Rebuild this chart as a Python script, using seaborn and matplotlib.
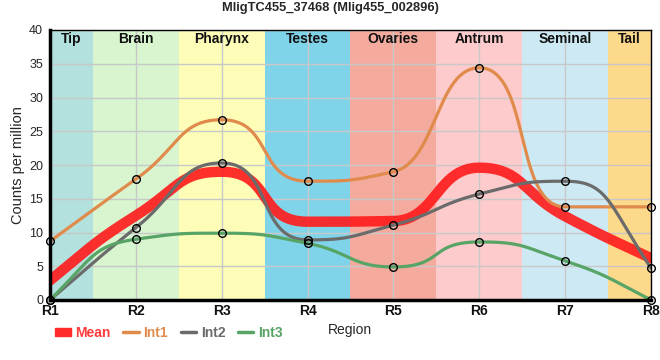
import numpy as np
import matplotlib
matplotlib.use("Agg")
import matplotlib.pyplot as plt
import seaborn as sns
from matplotlib.lines import Line2D
from matplotlib.patches import Patch

regions = ["R1", "R2", "R3", "R4", "R5", "R6", "R7", "R8"]
int1 = [8.7, 17.9, 26.7, 17.6, 19.0, 34.4, 13.8, 13.8]
int2 = [0.0, 10.7, 20.3, 8.9, 11.1, 15.7, 17.6, 4.7]
int3 = [0.0, 9.0, 9.9, 8.4, 4.9, 8.6, 5.8, 0.0]
mean = [2.9, 12.5, 19.0, 11.6, 11.7, 19.6, 12.4, 6.2]

band_names = ["Tip", "Brain", "Pharynx", "Testes", "Ovaries", "Antrum", "Seminal", "Tail"]
band_colors = ["#b3e1dd", "#d8f5d0", "#fdfdb8", "#7fd4ea", "#f4ab9d", "#fdcbcc", "#cdeaf4", "#fdd98b"]


def smooth(xs, ys, c=0.6, n=80):
    # monotone tangents, bezier segments with control handles at c of the gap
    xs = np.asarray(xs, float)
    ys = np.asarray(ys, float)
    h = np.diff(xs)
    d = np.diff(ys) / h
    m = np.zeros_like(ys)
    for i in range(1, len(ys) - 1):
        if d[i - 1] * d[i] > 0:
            p = (d[i - 1] * h[i] + d[i] * h[i - 1]) / (h[i - 1] + h[i])
            m[i] = np.sign(d[i]) * min(abs(d[i - 1]), abs(d[i]), 0.5 * abs(p)) * 2
    m[0] = (3 * d[0] - m[1]) / 2
    m[-1] = (3 * d[-1] - m[-2]) / 2
    out_x, out_y = [], []
    t = np.linspace(0, 1, n)
    b0, b1, b2, b3 = (1 - t) ** 3, 3 * (1 - t) ** 2 * t, 3 * (1 - t) * t ** 2, t ** 3
    for i in range(len(h)):
        ci = c if m[i] == 0 and m[i + 1] == 0 else 0.5
        px = [xs[i], xs[i] + ci * h[i], xs[i + 1] - ci * h[i], xs[i + 1]]
        py = [ys[i], ys[i] + ci * h[i] * m[i], ys[i + 1] - ci * h[i] * m[i + 1], ys[i + 1]]
        out_x.append(b0 * px[0] + b1 * px[1] + b2 * px[2] + b3 * px[3])
        out_y.append(b0 * py[0] + b1 * py[1] + b2 * py[2] + b3 * py[3])
    return np.concatenate(out_x), np.concatenate(out_y)


sns.set_style("white")
plt.rcParams["font.family"] = ["Liberation Sans", "DejaVu Sans"]

fig = plt.figure(figsize=(6.6, 3.6), dpi=100)
ax = fig.add_axes([50 / 660, 1 - 300 / 360, 601 / 660, 270 / 360])

x = np.arange(len(regions))
for i, (name, col) in enumerate(zip(band_names, band_colors)):
    lo = max(i - 0.5, 0)
    hi = min(i + 0.5, len(regions) - 1)
    ax.axvspan(lo, hi, color=col, zorder=0, lw=0)
    ax.text((lo + hi) / 2, 38.6, name, ha="center", va="center", fontsize=10,
            fontweight="bold", color="#111111", zorder=5)

ax.grid(True, color="#c8c8c8", lw=1, zorder=1)

mx, my = smooth(x, mean)
sns.lineplot(x=mx, y=my, color="#ff1a1a", lw=7.5, alpha=0.9, ax=ax, zorder=3, sort=False)

series = [(int1, "#e08b4b"), (int2, "#6b6b6b"), (int3, "#58a466")]
for vals, col in series:
    sx, sy = smooth(x, vals)
    sns.lineplot(x=sx, y=sy, color=col, lw=2.3, ax=ax, zorder=4, sort=False)
for vals, col in series:
    ax.plot(x, vals, "o", ms=5.5, mfc="none", mec="black", mew=1, zorder=6, clip_on=False)

ax.set_xlim(0, len(regions) - 1)
ax.set_ylim(0, 40)
ax.set_xticks(x)
ax.set_xticklabels(regions, fontsize=10, fontweight="bold", color="#111111")
ax.set_yticks(np.arange(0, 41, 5))
ax.tick_params(axis="y", labelsize=9, length=4, width=1, color="black", pad=1)
ax.tick_params(axis="x", length=0, pad=3)
for s in ["left", "bottom"]:
    ax.spines[s].set_linewidth(2.5)
for s in ["top", "right"]:
    ax.spines[s].set_linewidth(1)
for s in ax.spines.values():
    s.set_color("black")
    s.set_zorder(7)

ax.set_ylabel("Counts per million", fontsize=10.5, labelpad=3)
ax.set_xlabel("Region", fontsize=10)
ax.xaxis.set_label_coords(300 / 601, -0.085)

handles = [Patch(color="#ff2a2a"),
           Line2D([], [], color="#e08b4b", lw=2.5),
           Line2D([], [], color="#6b6b6b", lw=2.5),
           Line2D([], [], color="#58a466", lw=2.5)]
leg = ax.legend(handles, ["Mean", "Int1", "Int2", "Int3"], ncol=4, frameon=False,
                loc="upper left", bbox_to_anchor=(-0.005, -0.065), fontsize=10,
                handlelength=1.1, handleheight=0.6, handletextpad=0.35,
                columnspacing=0.9, borderpad=0.1,
                labelcolor=["#ff3b3b", "#e08b4b", "#6b6b6b", "#58a466"])
for t in leg.get_texts():
    t.set_fontweight("bold")

fig.suptitle("MligTC455_37468 (Mlig455_002896)", fontsize=9.3, fontweight="bold",
             x=330 / 660, y=0.995, va="top")

fig.savefig("out.png", dpi=100)
